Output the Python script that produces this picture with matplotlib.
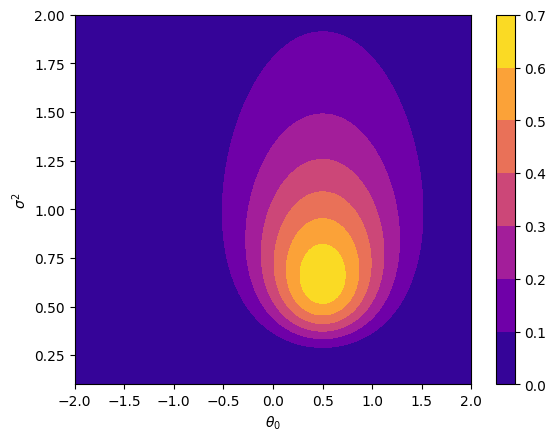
import numpy as np
import matplotlib
matplotlib.use('Agg')
import matplotlib.pyplot as plt
from math import gamma

# normal-inverse-gamma parameters
mu = 0.5
lam = 3.0
alpha = 3.0
beta = 2.9

theta_range = [-2.0, 2.0]
sigma2_range = [0.1, 2.0]
levels = [0.0, 0.1, 0.2, 0.3, 0.4, 0.5, 0.6, 0.7]

theta = np.linspace(theta_range[0], theta_range[1], 400)
sigma2 = np.linspace(sigma2_range[0], sigma2_range[1], 400)
T, S = np.meshgrid(theta, sigma2)

# density p(theta, sigma^2)
Z = (np.sqrt(lam) / np.sqrt(2 * np.pi * S)) * (beta ** alpha / gamma(alpha)) \
    * S ** (-(alpha + 1)) * np.exp(-(2 * beta + lam * (T - mu) ** 2) / (2 * S))

fig, ax = plt.subplots(figsize=(6.4, 4.8))
cs = ax.contourf(T, S, Z, levels=levels, cmap='plasma')
fig.colorbar(cs, ax=ax)
ax.set_xlabel(r'$\theta_0$')
ax.set_ylabel(r'$\sigma^2$')
fig.savefig('out.png', dpi=100, bbox_inches='tight')
